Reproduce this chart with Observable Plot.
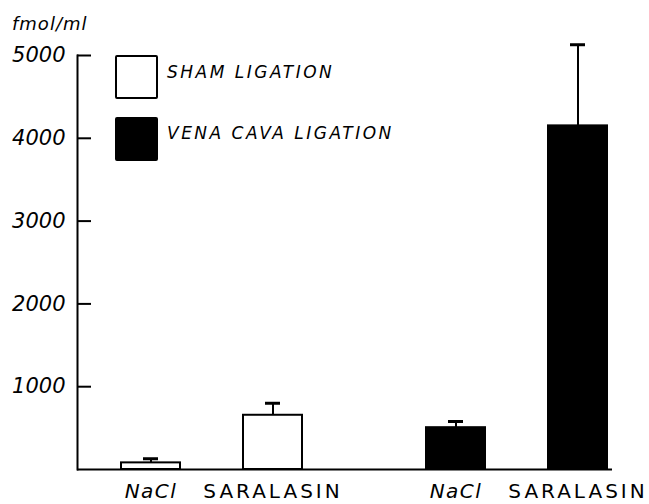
<!DOCTYPE html>
<html>
<head>
<meta charset="utf-8">
<script src="https://cdn.jsdelivr.net/npm/d3@7"></script>
<script src="https://cdn.jsdelivr.net/npm/@observablehq/plot@0.6"></script>
<style>
  html, body { margin: 0; padding: 0; background: #fff; }
  #wrap { position: relative; width: 649px; height: 504px; font-family: "DejaVu Sans", sans-serif; color: #000; }
  #wrap svg { position: absolute; left: 0; top: 0; }
  #wrap svg g[aria-label="x-axis tick label"] text { letter-spacing: 3px; }
  .unit { position: absolute; left: 12px; top: 15px; font-size: 18px; font-style: italic; letter-spacing: 1px; line-height: 18px; }
  .sw { position: absolute; left: 115px; width: 43px; height: 44px; box-sizing: border-box; border: 2px solid #000; border-radius: 2px; }
  .lt { position: absolute; left: 167px; font-size: 17px; letter-spacing: 2.5px; line-height: 17px; font-style: italic; white-space: nowrap; }
</style>
</head>
<body>
<div id="wrap"></div>
<script>
// ---- data ----
const groups = ["Sham ligation", "Sham ligation", "Vena cava ligation", "Vena cava ligation"];
const treatments = ["NaCl", "SARALASIN", "NaCl", "SARALASIN"];
const means = [80, 655, 505, 4150];
const errors = [50, 145, 75, 980];
const yTicks = [1000, 2000, 3000, 4000, 5000];
const groupNames = ["Sham ligation", "Vena cava ligation"];
const legendLabels = ["SHAM LIGATION", "VENA CAVA LIGATION"];
const groupFills = ["white", "black"];
const unitLabel = "fmol/ml";

// ---- table ----
const rows = groups.map((g, i) => ({
  key: g + "|" + treatments[i],
  group: g,
  treatment: treatments[i],
  mean: means[i],
  upper: means[i] + errors[i]
}));
const keys = rows.map(d => d.key);
// band slots: gaps between bars (narrow gap inside group, wider between groups)
const slots = [keys[0], "_g1", keys[1], "_g2", "_g3", keys[2], "_g4", keys[3]];
const labelOf = new Map(rows.map(d => [d.key, d.treatment]));

const W = 649, ML = 77, MR = 37, TICK = 14;

const chart = Plot.plot({
  width: W,
  height: 504,
  marginLeft: ML,
  marginRight: MR,
  marginTop: 55,
  marginBottom: 35,
  style: { fontFamily: "DejaVu Sans, sans-serif", color: "black", background: "white", overflow: "visible" },
  x: { type: "band", domain: slots, range: [117, 610], padding: 0 },
  y: { domain: [0, 5000] },
  color: { domain: groupNames, range: groupFills },
  marks: [
    Plot.frame({ anchor: "left", strokeWidth: 2 }),
    Plot.ruleX(rows, { x: "key", y1: "mean", y2: "upper", strokeWidth: 2 }),
    Plot.tickY(rows, { x: "key", y: "upper", strokeWidth: 3, insetLeft: 23, insetRight: 23 }),
    Plot.barY(rows, { x: "key", y: "mean", fill: "group", stroke: "black", strokeWidth: 2, insetLeft: 1, insetRight: 1 }),
    Plot.ruleY([0], { strokeWidth: 2 }),
    // inward tick marks on the y axis
    Plot.tickY(yTicks, { y: d => d, strokeWidth: 2, insetRight: W - ML - MR - TICK }),
    Plot.axisY(yTicks, { tickSize: 0, tickPadding: 12, label: null, fontSize: 21, fontStyle: "italic", tickFormat: d => String(d) }),
    Plot.axisX(keys.filter(k => labelOf.get(k) === "NaCl"), { tickSize: 0, tickPadding: 14, fontSize: 20, fontStyle: "italic", tickFormat: k => labelOf.get(k), label: null }),
    Plot.axisX(keys.filter(k => labelOf.get(k) !== "NaCl"), { tickSize: 0, tickPadding: 14, fontSize: 20, tickFormat: k => labelOf.get(k), label: null })
  ]
});

const wrap = document.getElementById("wrap");
wrap.appendChild(chart);
d3.select(chart).selectAll('g[aria-label="x-axis tick label"] text')
  .filter(function () { return this.textContent === "NaCl"; })
  .style("letter-spacing", "1.5px");

const unit = document.createElement("div");
unit.className = "unit";
unit.textContent = unitLabel;
wrap.appendChild(unit);

const swTops = [55, 117];
const textTops = [64, 125];
legendLabels.forEach((lab, i) => {
  const sw = document.createElement("div");
  sw.className = "sw";
  sw.style.top = swTops[i] + "px";
  sw.style.background = groupFills[i];
  wrap.appendChild(sw);
  const t = document.createElement("div");
  t.className = "lt";
  t.style.top = textTops[i] + "px";
  t.textContent = lab;
  wrap.appendChild(t);
});
</script>
</body>
</html>
